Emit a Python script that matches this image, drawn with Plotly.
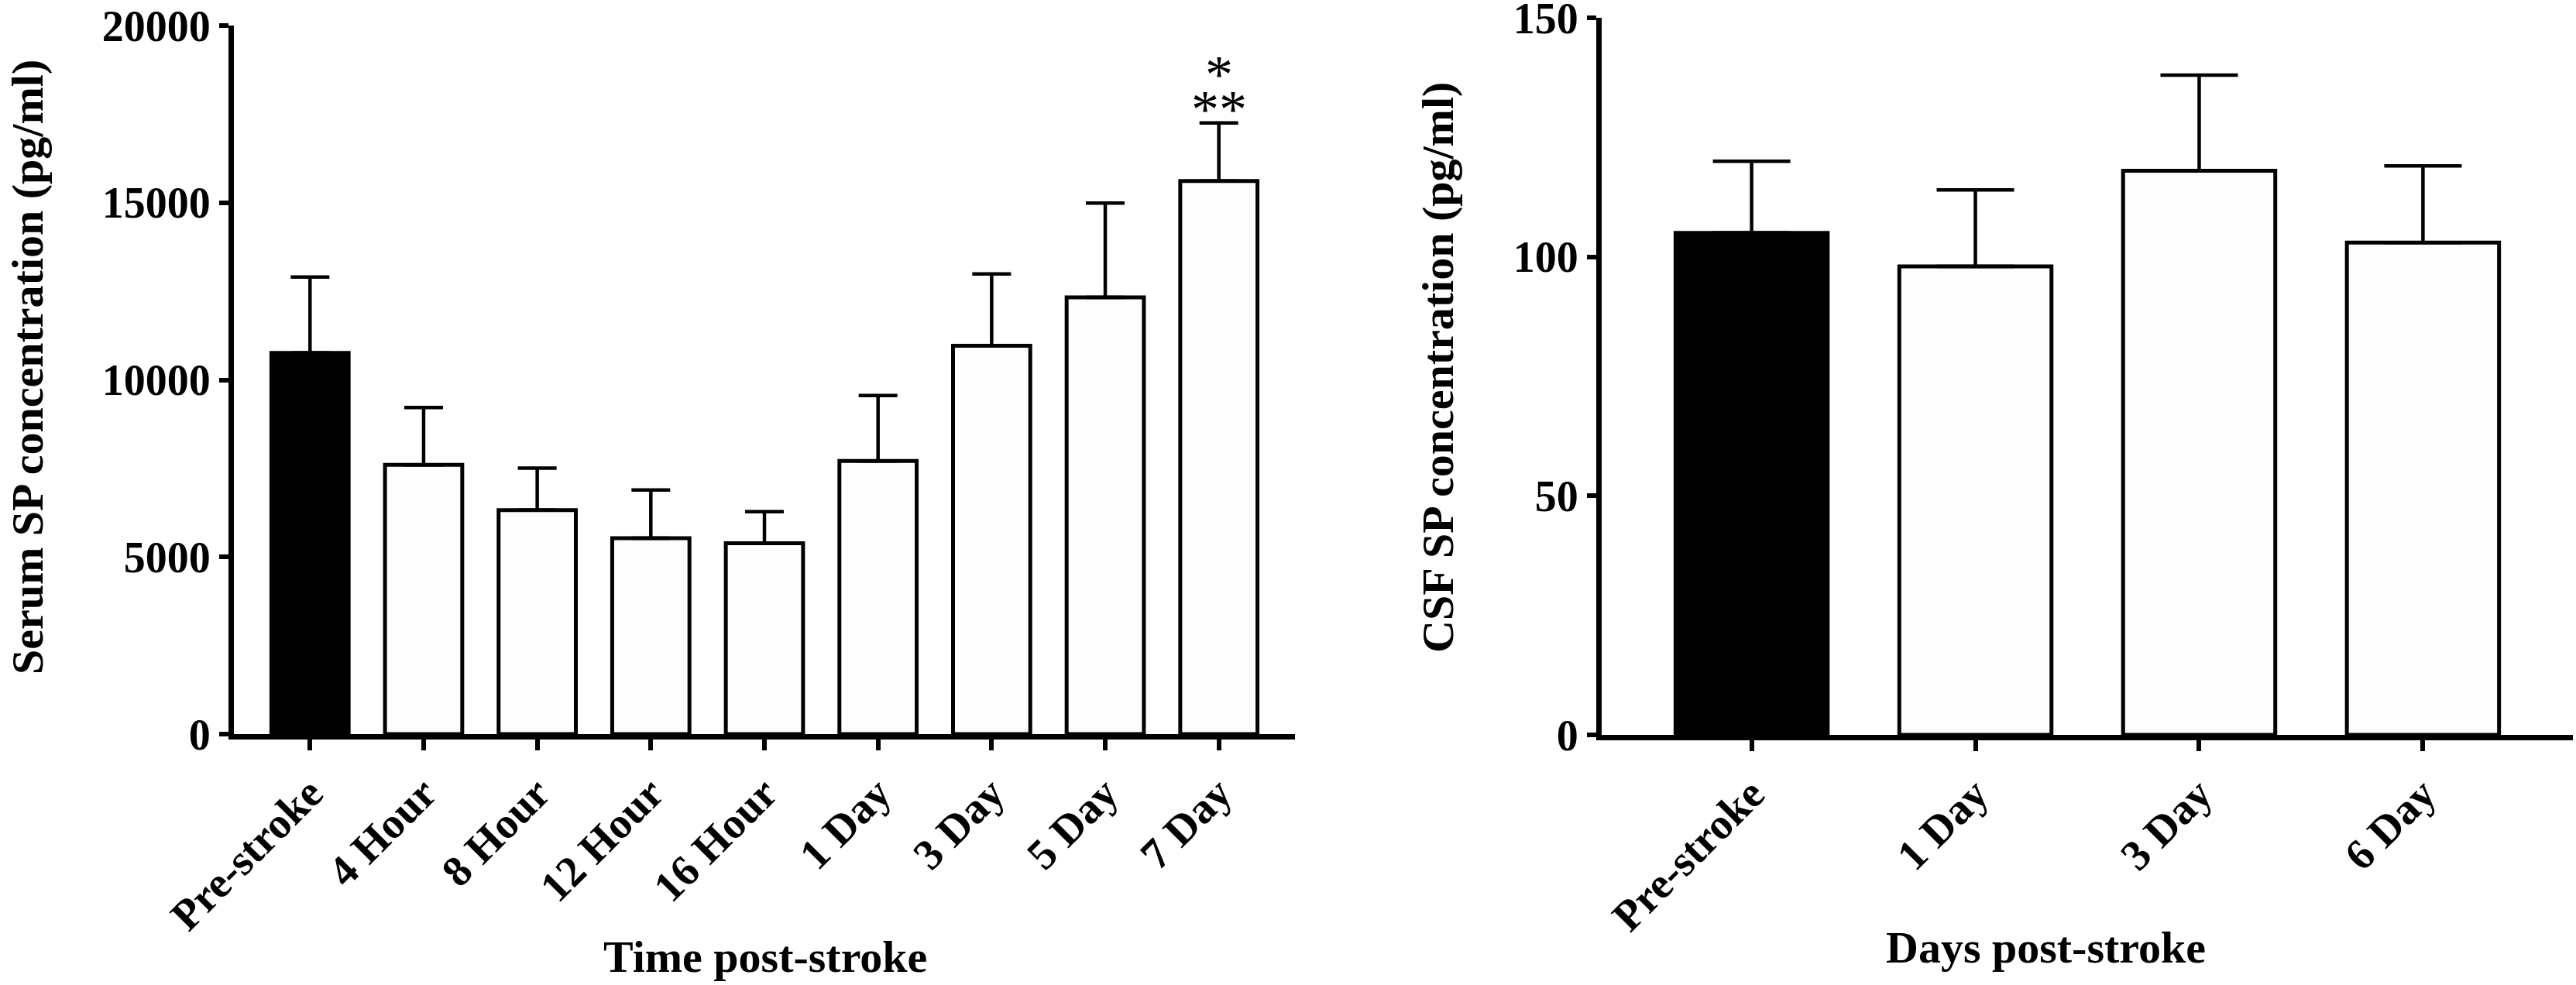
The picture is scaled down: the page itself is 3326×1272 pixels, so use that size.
import plotly.graph_objects as go

# serum SP (pg/ml), left panel
serum_labels = ["Pre-stroke", "4 Hour", "8 Hour", "12 Hour", "16 Hour",
                "1 Day", "3 Day", "5 Day", "7 Day"]
serum_mean = [10760, 7600, 6320, 5530, 5390, 7710, 10960, 12330, 15610]
serum_upper = [12900, 9220, 7510, 6890, 6280, 9560, 12990, 14990, 17250]
serum_ticks = [0, 5000, 10000, 15000, 20000]

# CSF SP (pg/ml), right panel
csf_labels = ["Pre-stroke", "1 Day", "3 Day", "6 Day"]
csf_mean = [105, 98, 118, 103]
csf_upper = [120, 114, 138, 119]
csf_ticks = [0, 50, 100, 150]

W, H = 3326, 1272
FONT = "Liberation Serif"
TICKF = dict(family=FONT, size=56, color="black", weight="bold")
TITLEF = dict(family=FONT, size=58, color="black", weight="bold")


def bar_trace(labels, mean, upper, xa, ya, cap):
    colors = ["black"] + ["#fdfdfd"] * (len(labels) - 1)
    err = [u - m for u, m in zip(upper, mean)]
    return go.Bar(
        x=labels, y=mean, xaxis=xa, yaxis=ya, width=0.68,
        marker=dict(color=colors, line=dict(color="black", width=5)),
        error_y=dict(type="data", symmetric=False, array=err,
                     arrayminus=[0] * len(err), color="black",
                     thickness=4.5, width=cap),
        showlegend=False,
    )


fig = go.Figure()
fig.add_trace(bar_trace(serum_labels, serum_mean, serum_upper, "x", "y", 25))
fig.add_trace(bar_trace(csf_labels, csf_mean, csf_upper, "x2", "y2", 50))

xcommon = dict(showline=True, linecolor="black", linewidth=7, ticks="outside",
               ticklen=14, tickwidth=6, tickcolor="black", tickangle=-45,
               tickfont=TICKF, showgrid=False, zeroline=False,
               automargin=False, ticklabeloverflow="allow")
ycommon = dict(showline=True, linecolor="black", linewidth=7, ticks="outside",
               ticklen=12, tickwidth=6, tickcolor="black", tickfont=TICKF,
               showgrid=False, zeroline=False, tickmode="array",
               tickformat="d", automargin=False, ticklabeloverflow="allow")

fig.update_layout(
    width=W, height=H,
    margin=dict(l=0, r=0, t=0, b=0, autoexpand=False),
    paper_bgcolor="white", plot_bgcolor="white",
    xaxis=dict(domain=[302 / W, 1672 / W], anchor="y",
               range=[-0.67, len(serum_labels) - 0.33], **xcommon),
    yaxis=dict(domain=[(H - 948) / H, (H - 33) / H], anchor="x",
               range=[0, 20000], tickvals=serum_ticks, **ycommon),
    xaxis2=dict(domain=[2068 / W, 3322 / W], anchor="y2",
                range=[-0.67, len(csf_labels) - 0.33], **xcommon),
    yaxis2=dict(domain=[(H - 949) / H, (H - 23) / H], anchor="x2",
                range=[0, 150], tickvals=csf_ticks, **ycommon),
)

# axis titles
titles = [
    ("Serum SP concentration (pg/ml)", 36 / W, (H - 474) / H, -90),
    ("CSF SP concentration (pg/ml)", 1857 / W, (H - 475) / H, -90),
    ("Time post-stroke", 988 / W, (H - 1235) / H, 0),
    ("Days post-stroke", 2641 / W, (H - 1223) / H, 0),
]
for text, x, y, ang in titles:
    fig.add_annotation(text=text, x=x, y=y, xref="paper", yref="paper",
                       xanchor="center", yanchor="middle", textangle=ang,
                       showarrow=False, font=TITLEF)

# significance stars above 7 Day
star_font = dict(family=FONT, size=72, color="black")
for text, shift in [("**", 18), ("*", 63)]:
    fig.add_annotation(text=text, x="7 Day", y=serum_upper[-1], xref="x",
                       yref="y", yanchor="middle", yshift=shift, height=44,
                       valign="middle", showarrow=False, font=star_font)

fig.write_html("out.html", config={"displayModeBar": False},
               post_script="document.body.style.margin='0px';")
